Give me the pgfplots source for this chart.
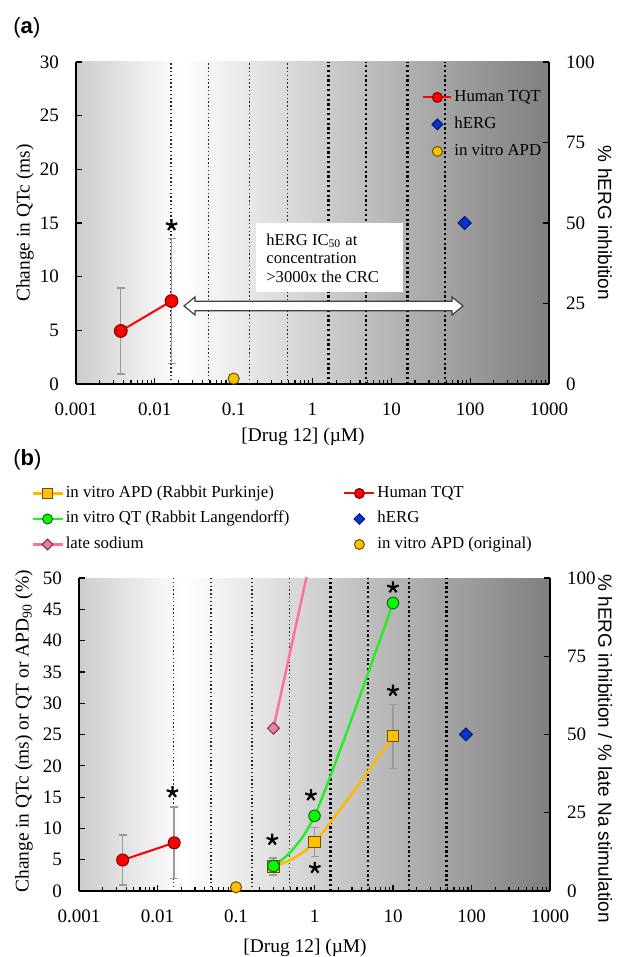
\documentclass[border=0pt]{standalone}
\usepackage{fontspec}
\setmainfont{Liberation Serif}
\newfontfamily\arialfont{Liberation Sans}
\usepackage{pgfplots}
\pgfplotsset{compat=1.18}
\definecolor{bgL}{HTML}{CCCCCC}
\definecolor{bgR}{HTML}{7F7F7F}
\definecolor{tqtred}{HTML}{FF0000}
\definecolor{tqtedge}{HTML}{7A0000}
\definecolor{hergblue}{HTML}{0A32D2}
\definecolor{hergedge}{HTML}{001A66}
\definecolor{apdyel}{HTML}{FFC000}
\definecolor{apdedge}{HTML}{6B5200}
\definecolor{qtgreen}{HTML}{00FF00}
\definecolor{qtline}{HTML}{22EE22}
\definecolor{qtedge}{HTML}{1E5E1E}
\definecolor{purkline}{HTML}{FFB800}
\definecolor{naline}{HTML}{FF6F9C}
\definecolor{nafill}{HTML}{F07CA2}
\definecolor{naedge}{HTML}{7A3048}
\definecolor{errgray}{HTML}{9A9A9A}
\pgfdeclarehorizontalshading{plotbg}{100bp}{color(0bp)=(bgL); color(25bp)=(bgL); color(36bp)=(white); color(75bp)=(bgR); color(100bp)=(bgR)}

\pgfplotsset{
  myLegA/.style={legend image code/.code={\draw[mark repeat=2,mark phase=2,##1] plot coordinates {(0pt,0pt) (7pt,0pt) (14pt,0pt)};}},
  myLegB/.style={legend image code/.code={\draw[mark repeat=2,mark phase=2,##1] plot coordinates {(0pt,0pt) (7.5pt,0pt) (15pt,0pt)};}},
  myThinDot/.style={ycomb, mark=none, black!85, line width=0.7pt, dash pattern=on 0.7pt off 1.2pt},
  myThickDot/.style={ycomb, mark=none, black, line width=1.1pt, dash pattern=on 1.1pt off 1.3pt},
  myErr/.style={error bars/y dir=both, error bars/y explicit,
    error bars/error bar style={errgray, line width=0.7pt, solid},
    error bars/error mark options={rotate=90, errgray, mark size=2pt, line width=0.7pt, solid}},
  myTqt/.style={tqtred, line width=1pt, mark=*, mark size=3.2pt,
    mark options={solid, fill=tqtred, draw=tqtedge, line width=0.5pt}},
  myApdo/.style={only marks, mark=*, mark size=2.8pt, mark options={fill=apdyel, draw=apdedge, line width=0.5pt}},
  myHerg/.style={only marks, mark=square*, mark size=2.3pt, mark options={rotate=45, fill=hergblue, draw=hergedge, line width=0.5pt}},
  myStars/.style={only marks, mark=star, mark size=3pt, mark options={black, line width=1.1pt}},
  myPurk/.style={purkline, line width=1.2pt, mark=square*, mark size=2.8pt,
    mark options={solid, fill=apdyel, draw=apdedge, line width=0.5pt}},
  myQt/.style={qtline, line width=1.2pt, mark=*, mark size=2.9pt,
    mark options={solid, fill=qtgreen, draw=qtedge, line width=0.5pt}},
  myNas/.style={naline, line width=1.2pt},
  myNam/.style={mark=square*, mark size=2.1pt, mark options={rotate=45, solid, fill=nafill, draw=naedge, line width=0.5pt}},
}

\begin{document}
\begin{tikzpicture}
\useasboundingbox (0,0) rectangle (308pt,478.5pt);

% ---------------- panel (a) ----------------
\begin{axis}[scale only axis, anchor=south west, at={(38pt,286.5pt)}, width=236.5pt, height=161pt,
  xmode=log, xmin=0.001, xmax=1000, ymin=0, ymax=30, ytick={0,5,...,30},
  tick align=inside, tick style={black, line width=0.6pt}, major tick length=3pt, minor tick length=2pt,
  axis line style={-, black, line width=0.8pt},
  tick label style={font=\fontsize{9.5}{11}\selectfont},
  /pgf/number format/assume math mode=true,
  axis x line*=bottom, axis y line*=left, xtick pos=left, ytick pos=left,
  xtick={0.001,0.01,0.1,1,10,100,1000}, xticklabels={0.001,0.01,0.1,1,10,100,1000},
  xticklabel style={yshift=-6pt}, yticklabel style={xshift=-5pt},
  axis background/.style={shade, shading=plotbg},
  xlabel={[Drug 12] (\textmu M)}, ylabel={Change in QTc (ms)},
  every axis x label/.style={at={(axis description cs:0.48,-0.165)}, anchor=center, font=\fontsize{9.7}{11}\selectfont},
  every axis y label/.style={at={(axis description cs:-0.108,0.5)}, rotate=90, anchor=center, font=\fontsize{9.7}{11}\selectfont},
  legend style={draw=none, fill=none, at={(0.7315,0.921)}, anchor=north west, inner sep=0pt,
    row sep=3.9pt, column sep=0pt, font=\fontsize{8.4}{10}\selectfont,
    nodes={inner sep=1pt, text height=5.8pt, text depth=1.8pt}},
  legend cell align=left]
\addplot[myThinDot, forget plot] coordinates {(0.016,30) (0.048,30) (0.16,30) (0.48,30)};
\addplot[myThickDot, forget plot] coordinates {(1.6,30) (4.8,30) (16,30) (48,30)};
\draw[fill=white, draw=black!75, line width=0.6pt]
  (axis cs:0.02344,7.27) -- (axis cs:0.03236,8.11) -- (axis cs:0.03236,7.71) -- (axis cs:58.88,7.71)
  -- (axis cs:58.88,8.11) -- (axis cs:81.1,7.27) -- (axis cs:58.88,6.43) -- (axis cs:58.88,6.83)
  -- (axis cs:0.03236,6.83) -- (axis cs:0.03236,6.43) -- cycle;
\fill[white] (axis cs:0.192,8.57) rectangle (axis cs:14.06,15.0);
\node[anchor=base west, inner sep=0pt, font=\fontsize{8.3}{10}\selectfont] at (axis cs:0.257,12.9) {hERG IC\textsubscript{50} at};
\node[anchor=base west, inner sep=0pt, font=\fontsize{8.3}{10}\selectfont] at (axis cs:0.257,11.18) {concentration};
\node[anchor=base west, inner sep=0pt, font=\fontsize{8.3}{10}\selectfont] at (axis cs:0.257,9.44) {>3000x the CRC};
\addplot[myTqt, myErr, forget plot] coordinates {(0.0037,4.94) +- (0,4.0) (0.0163,7.73) +- (0,5.8)};
\addplot[myApdo, forget plot] coordinates {(0.1,0.5)};
\addplot[myStars, forget plot] coordinates {(0.0163,14.8)};
\addlegendimage{myLegA, tqtred, line width=1pt, mark=*, mark size=2.5pt, mark options={solid, fill=tqtred, draw=tqtedge, line width=0.5pt}}
\addlegendentry{Human TQT}
\addlegendimage{myLegA, only marks, mark=square*, mark size=1.9pt, mark options={rotate=45, fill=hergblue, draw=hergedge, line width=0.5pt}}
\addlegendentry{hERG}
\addlegendimage{myLegA, only marks, mark=*, mark size=2.5pt, mark options={fill=apdyel, draw=apdedge, line width=0.5pt}}
\addlegendentry{in vitro APD}
\end{axis}
\begin{axis}[scale only axis, anchor=south west, at={(38pt,286.5pt)}, width=236.5pt, height=161pt,
  xmode=log, xmin=0.001, xmax=1000, ymin=0, ymax=100, ytick={0,25,50,75,100},
  tick align=inside, tick style={black, line width=0.6pt}, major tick length=3pt,
  axis line style={-, black, line width=0.8pt},
  tick label style={font=\fontsize{9.5}{11}\selectfont},
  /pgf/number format/assume math mode=true,
  hide x axis, axis y line*=right, ytick pos=right, yticklabel style={xshift=5pt},
  ylabel={\% hERG inhibition},
  every axis y label/.style={at={(axis description cs:1.118,0.5)}, rotate=-90, anchor=center, font=\arialfont\fontsize{9.5}{11}\selectfont}]
\addplot[myHerg] coordinates {(85,50)};
\end{axis}

% ---------------- panel (b) ----------------
\begin{axis}[scale only axis, anchor=south west, at={(39.5pt,33pt)}, width=235.5pt, height=156.5pt,
  xmode=log, xmin=0.001, xmax=1000, ymin=0, ymax=50, ytick={0,5,...,50},
  tick align=inside, tick style={black, line width=0.6pt}, major tick length=3pt, minor tick length=2pt,
  axis line style={-, black, line width=0.8pt},
  tick label style={font=\fontsize{9.5}{11}\selectfont},
  /pgf/number format/assume math mode=true,
  axis x line*=bottom, axis y line*=left, xtick pos=left, ytick pos=left,
  xtick={0.001,0.01,0.1,1,10,100,1000}, xticklabels={0.001,0.01,0.1,1,10,100,1000},
  xticklabel style={yshift=-6pt}, yticklabel style={xshift=-5pt},
  axis background/.style={shade, shading=plotbg},
  xlabel={[Drug 12] (\textmu M)}, ylabel={Change in QTc (ms) or QT or APD\textsubscript{90} (\%)},
  every axis x label/.style={at={(axis description cs:0.48,-0.182)}, anchor=center, font=\fontsize{9.7}{11}\selectfont},
  every axis y label/.style={at={(axis description cs:-0.117,0.51)}, rotate=90, anchor=center, font=\fontsize{9.7}{11}\selectfont},
  legend columns=2,
  legend style={draw=none, fill=none, at={(-0.102,1.302)}, anchor=north west, inner sep=0pt,
    row sep=3.15pt, column sep=0pt, font=\fontsize{8.4}{10}\selectfont,
    nodes={inner sep=1pt, text height=5.8pt, text depth=1.8pt},
    /tikz/column 2/.style={column sep=26pt}},
  legend cell align=left]
\addplot[myThinDot, forget plot] coordinates {(0.016,50) (0.048,50) (0.16,50) (0.48,50)};
\addplot[myThickDot, forget plot] coordinates {(1.6,50) (4.8,50) (16,50) (48,50)};
\addplot[myTqt, mark size=3pt, myErr, forget plot] coordinates {(0.0036,4.95) +- (0,4.0) (0.0163,7.7) +- (0,5.75)};
\addplot[myApdo, forget plot] coordinates {(0.1,0.6)};
\addplot[myPurk, smooth, tension=0.5, myErr, forget plot] coordinates {(0.3,3.9) +- (0,1.35) (1,7.8) +- (0,2.3) (10,24.7) +- (0,5.1)};
\addplot[myQt, smooth, tension=0.5, forget plot] coordinates {(0.3,4.0) (1,12) (10,46)};
\addplot[myStars, forget plot] coordinates {(0.0155,15.8) (0.29,8.2) (0.9,15.3) (1.01,3.7) (10,48.5) (10,32)};
\addlegendimage{myLegB, purkline, line width=1.2pt, mark=square*, mark size=2.3pt, mark options={solid, fill=apdyel, draw=apdedge, line width=0.5pt}}
\addlegendentry{in vitro APD (Rabbit Purkinje)}
\addlegendimage{myLegB, tqtred, line width=1pt, mark=*, mark size=2.5pt, mark options={solid, fill=tqtred, draw=tqtedge, line width=0.5pt}}
\addlegendentry{Human TQT}
\addlegendimage{myLegB, qtline, line width=1.2pt, mark=*, mark size=2.5pt, mark options={solid, fill=qtgreen, draw=qtedge, line width=0.5pt}}
\addlegendentry{in vitro QT (Rabbit Langendorff)}
\addlegendimage{myLegB, only marks, mark=square*, mark size=1.9pt, mark options={rotate=45, fill=hergblue, draw=hergedge, line width=0.5pt}}
\addlegendentry{hERG}
\addlegendimage{myLegB, naline, line width=1.2pt, mark=square*, mark size=1.9pt, mark options={rotate=45, solid, fill=nafill, draw=naedge, line width=0.5pt}}
\addlegendentry{late sodium}
\addlegendimage{myLegB, only marks, mark=*, mark size=2.5pt, mark options={fill=apdyel, draw=apdedge, line width=0.5pt}}
\addlegendentry{in vitro APD (original)}
\end{axis}
\begin{axis}[scale only axis, anchor=south west, at={(39.5pt,33pt)}, width=235.5pt, height=156.5pt,
  xmode=log, xmin=0.001, xmax=1000, ymin=0, ymax=100, ytick={0,25,50,75,100},
  tick align=inside, tick style={black, line width=0.6pt}, major tick length=3pt,
  axis line style={-, black, line width=0.8pt},
  tick label style={font=\fontsize{9.5}{11}\selectfont},
  /pgf/number format/assume math mode=true,
  hide x axis, axis y line*=right, ytick pos=right, yticklabel style={xshift=5pt},
  ylabel={\% hERG inhibition / \% late Na stimulation},
  every axis y label/.style={at={(axis description cs:1.117,0.455)}, rotate=-90, anchor=center, font=\arialfont\fontsize{9.5}{11}\selectfont}]
\addplot[myNas] coordinates {(0.3,52) (1,112)};
\addplot[only marks, myNam] coordinates {(0.3,52)};
\addplot[myHerg] coordinates {(85,50)};
\end{axis}

\node[anchor=west, inner sep=0pt, font=\arialfont\fontsize{11}{13}\selectfont] at (6.5pt,464.5pt) {(\textbf{a})};
\node[anchor=west, inner sep=0pt, font=\arialfont\fontsize{11}{13}\selectfont] at (6.5pt,248.5pt) {(\textbf{b})};
\end{tikzpicture}
\end{document}
